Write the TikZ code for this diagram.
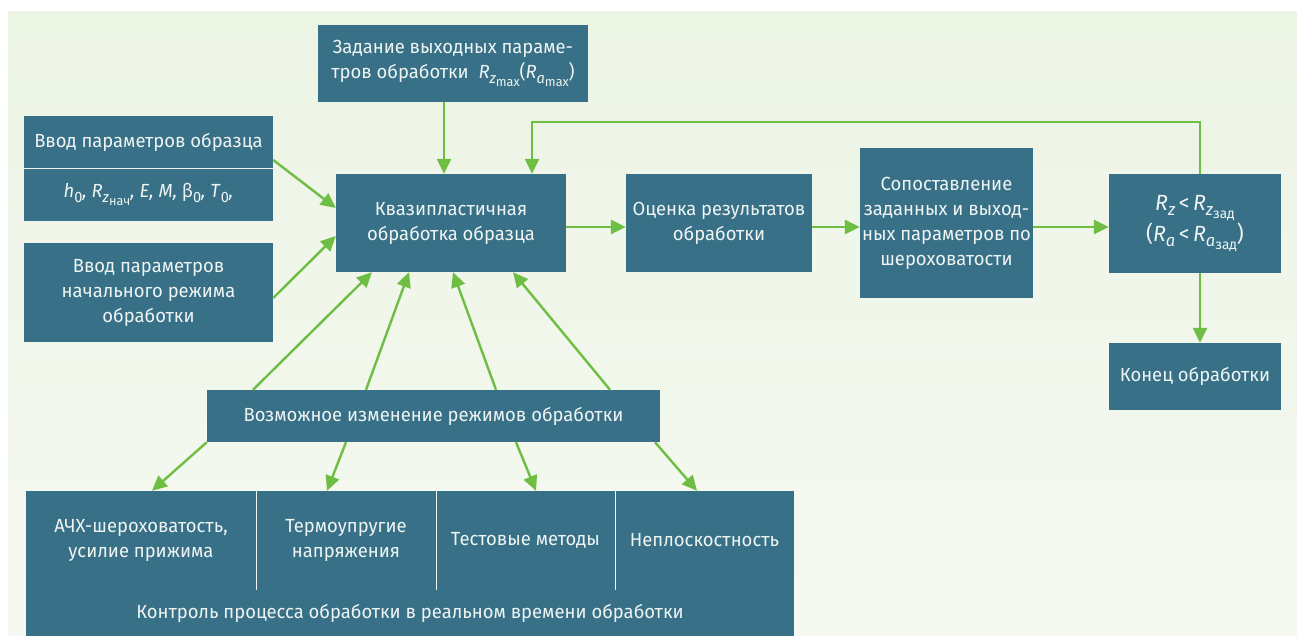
\documentclass[tikz,border=0pt]{standalone}
\usepackage{fontspec}
\setmainfont{Fira Sans}[FakeStretch=0.97]
\usetikzlibrary{arrows.meta,calc}
\definecolor{boxc}{RGB}{56,112,136}
\definecolor{arrc}{RGB}{110,190,68}
\definecolor{txtc}{RGB}{238,244,242}
\definecolor{bgtop}{RGB}{236,244,228}
\definecolor{bgbot}{RGB}{246,249,242}
\newcommand\subA[1]{\raisebox{-0.45ex}{\fontsize{15}{15}\selectfont #1}}
\newcommand\subB[1]{\raisebox{-0.35ex}{\fontsize{13}{13}\selectfont #1}}
\newcommand\subC[1]{\raisebox{-0.45ex}{\fontsize{17}{17}\selectfont #1}}
\newcommand\subD[1]{\raisebox{-0.35ex}{\fontsize{14}{14}\selectfont #1}}
\begin{document}
\begin{tikzpicture}[x=1pt,y=-1pt,
  bx/.style={fill=boxc,text=txtc,inner sep=0pt,align=center,
    font=\fontsize{19}{25}\selectfont},
  arr/.style={draw=arrc,line width=2.4pt,-{Triangle[length=15pt,width=14pt]}},
  sep/.style={draw=txtc,line width=1.3pt}]
\useasboundingbox (0,0) rectangle (1297,636);
\fill[white] (0,0) rectangle (1297,636);
\shade[top color=bgtop,bottom color=bgbot] (8,12) rectangle (1297,636);
% boxes
\node[bx,minimum width=270pt,minimum height=77pt] (zad) at (453,63.5)
  {Задание выходных параме-\\тров обработки \ \textit{R}\subA{\textit{z}\subB{max}}(\textit{R}\subA{\textit{a}\subB{max}})};
\node[bx,minimum width=249pt,minimum height=52pt] (vvodA) at (148.5,142)
  {Ввод параметров образца};
\node[bx,minimum width=249pt,minimum height=53pt] (vvodB) at (148.5,194.5)
  {\textit{h}\subA{0}\textit{, R}\subA{\textit{z}\subB{нач}}\textit{, E, M, }β\subA{0}\textit{, T}\subA{0}\textit{,}};
\draw[sep] (vvodA.south west) -- (vvodA.south east);
\node[bx,minimum width=249pt,minimum height=99pt] (vvod2) at (148.5,292.5)
  {Ввод параметров\\начального режима\\обработки};
\node[bx,minimum width=230pt,minimum height=98pt] (kv) at (451,223)
  {Квазипластичная\\обработка образца};
\node[bx,minimum width=186pt,minimum height=98pt] (ots) at (719,223)
  {Оценка результатов\\обработки};
\node[bx,minimum width=173pt,minimum height=150pt] (sop) at (946.5,223)
  {Сопоставление\\заданных и выход-\\ных параметров по\\шероховатости};
\node[bx,minimum width=172pt,minimum height=99pt,font=\fontsize{22}{31}\selectfont] (rz) at (1195,223.5)
  {\textit{R}\subC{\textit{z}}\,<\,\textit{R}\subC{\textit{z}\subD{зад}}\\(\textit{R}\subC{\textit{a}}\,<\,\textit{R}\subC{\textit{a}\subD{зад}})};
\node[bx,minimum width=172pt,minimum height=67pt] (kon) at (1195,376.5)
  {Конец обработки};
\node[bx,minimum width=453pt,minimum height=52pt] (voz) at (433.5,416)
  {Возможное изменение режимов обработки};
\node[bx,minimum width=230pt,minimum height=99pt] (c1) at (141,540.5)
  {АЧХ-шероховатость,\\усилие прижима};
\node[bx,minimum width=180pt,minimum height=99pt] (c2) at (346,540.5)
  {Термоупругие\\напряжения};
\node[bx,minimum width=179pt,minimum height=99pt] (c3) at (525.5,540.5)
  {Тестовые методы};
\node[bx,minimum width=179pt,minimum height=99pt] (c4) at (704.5,540.5)
  {Неплоскостность};
\node[bx,minimum width=768pt,minimum height=46pt] (ctrl) at (410,613)
  {Контроль процесса обработки в реальном времени обработки};
\draw[sep] (c1.north east) -- (c1.south east);
\draw[sep] (c2.north east) -- (c2.south east);
\draw[sep] (c3.north east) -- (c3.south east);
% arrows
\draw[arr] ([xshift=-9pt]zad.south) -- ([xshift=-7pt]kv.north);
\draw[arr] ([yshift=-18pt]vvodA.east) -- ([yshift=15pt]kv.west);
\draw[arr] ([yshift=-5.5pt]vvod2.east) -- ([yshift=-13pt]kv.west);
\draw[arr] ([yshift=-4pt]kv.east) -- ([yshift=-4pt]ots.west);
\draw[arr] ([yshift=-4pt]ots.east) -- ([yshift=-4pt]sop.west);
\draw[arr] ([yshift=-4pt]sop.east) -- ([yshift=-3.5pt]rz.west);
\draw[arr] ([xshift=5pt]rz.south) -- ([xshift=5pt]kon.north);
\draw[arr] ([xshift=5pt]rz.north) -- ++(0,-52) -| ([xshift=81pt]kv.north);
\draw[arr] ([xshift=-180.5pt]voz.north) -- ([xshift=-79pt]kv.south);
\draw[arr] ([xshift=-67.5pt]voz.north) -- ([xshift=-42pt]kv.south);
\draw[arr] ([xshift=62.5pt]voz.north) -- ([xshift=2pt]kv.south);
\draw[arr] ([xshift=176.5pt]voz.north) -- ([xshift=62pt]kv.south);
\draw[arr] (voz.south west) -- ([xshift=11pt]c1.north);
\draw[arr] ([xshift=-87.5pt]voz.south) -- ([xshift=-19pt]c2.north);
\draw[arr] ([xshift=82.5pt]voz.south) -- ([xshift=10.5pt]c3.north);
\draw[arr] ([xshift=221.5pt]voz.south) -- ([xshift=-7.5pt]c4.north);
\end{tikzpicture}
\end{document}
